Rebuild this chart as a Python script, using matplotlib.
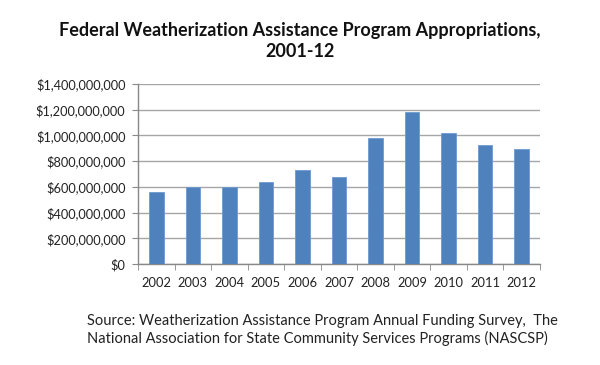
import numpy as np
import matplotlib
matplotlib.use('Agg')
import matplotlib.pyplot as plt
from matplotlib.ticker import FuncFormatter

years = ['2002', '2003', '2004', '2005', '2006', '2007',
         '2008', '2009', '2010', '2011', '2012']
appropriations = [562e6, 600e6, 600e6, 640e6, 731e6, 679e6,
                  977e6, 1185e6, 1016e6, 923e6, 892e6]

title = 'Federal Weatherization Assistance Program Appropriations,\n2001-12'
source = ('Source: Weatherization Assistance Program Annual Funding Survey,  The\n'
          'National Association for State Community Services Programs (NASCSP)')

plt.rcParams['font.family'] = ['Lato', 'DejaVu Sans']

fig = plt.figure(figsize=(6, 3.65), dpi=100)
ax = fig.add_axes([0.23, 0.2767, 0.67, 0.4932])

x = np.arange(len(years))
ax.bar(x, appropriations, width=0.4, color='#4F81BD', edgecolor='#6F9AD0',
       linewidth=0.6, zorder=3)

ax.set_xlim(-0.5, len(years) - 0.5)
ax.set_ylim(0, 1.4e9)
ax.set_yticks(np.arange(0, 1.4e9 + 1, 2e8))
ax.yaxis.set_major_formatter(FuncFormatter(lambda v, p: '${:,.0f}'.format(v)))
ax.grid(axis='y', color='#A6A6A6', linewidth=1.0, zorder=0)

ax.set_xticks(x)
ax.set_xticklabels(years)
ax.set_xticks(np.arange(-0.5, len(years), 1), minor=True)
ax.tick_params(axis='x', which='major', length=0, pad=9, labelsize=9.3, colors='#222222')
ax.tick_params(axis='x', which='minor', length=4, color='#888888')
ax.tick_params(axis='y', length=4, color='#888888', labelsize=9.2, colors='#222222', pad=5)

for s in ['top', 'right']:
    ax.spines[s].set_visible(False)
for s in ['left', 'bottom']:
    ax.spines[s].set_color('#888888')
    ax.spines[s].set_linewidth(1.0)

fig.text(0.5, 0.888, title, ha='center', va='center', fontsize=13,
         fontweight='bold', linespacing=1.25, color='#111111')
fig.text(0.145, 0.096, source, ha='left', va='center', fontsize=10.5,
         linespacing=1.25, color='#222222')

fig.savefig('out.png', dpi=100)
